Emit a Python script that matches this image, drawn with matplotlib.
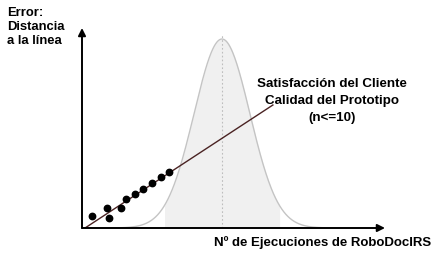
import numpy as np
import matplotlib.pyplot as plt

plt.rcParams['font.family'] = ['Liberation Sans', 'DejaVu Sans']

# client satisfaction points (runs, error)
runs = [3.2, 8.2, 9.0, 12.9, 14.4, 17.6, 20.2, 23.2, 26.2, 28.8]
error = [6.0, 9.9, 4.9, 9.9, 14.4, 17.0, 19.4, 22.4, 25.4, 27.9]

# trend line endpoints
fit_x = [1.0, 63.0]
fit_y = [0.0, 61.5]

# normal curve parameters
mu = 46.2
sigma = 9.2
peak = 94.5
shade_lo, shade_hi = 27.1, 65.3

W, H = 441, 267
fig = plt.figure(figsize=(W / 100, H / 100), dpi=100)
ax = fig.add_axes([82 / W, (H - 228) / H, (385 - 82) / W, (228 - 28) / H])
ax.set_xlim(0, 100)
ax.set_ylim(0, 100)
ax.axis('off')

xs = np.linspace(12, 80, 300)
ys = peak * np.exp(-0.5 * ((xs - mu) / sigma) ** 2)
m = (xs >= shade_lo) & (xs <= shade_hi)
ax.fill_between(xs[m], 0, ys[m], color='#f0f0f0', lw=0)
ax.plot(xs, ys, color='#c4c4c4', lw=1)
ax.plot([mu, mu], [0, 96.5], color='#bdbdbd', lw=0.8, ls=(0, (1.5, 2)))

ax.plot(fit_x, fit_y, color='#4a2323', lw=1)
ax.plot(runs, error, 'o', color='black', ms=4.6)

# axes arrows
ax.annotate('', xy=(0, 100), xytext=(0, 0),
            arrowprops=dict(arrowstyle='-|>', color='black', lw=1.4,
                            mutation_scale=11, shrinkA=0, shrinkB=0))
ax.annotate('', xy=(100, 0), xytext=(0, 0),
            arrowprops=dict(arrowstyle='-|>', color='black', lw=1.4,
                            mutation_scale=11, shrinkA=0, shrinkB=0))

fig.text(7 / W, 1 - 27 / H, 'Error:\nDistancia\na la línea', ha='left',
         va='center', fontsize=9.4, fontweight='bold', linespacing=1.2)
fig.text(332 / W, 1 - 101 / H,
         'Satisfacción del Cliente\nCalidad del Prototipo\n(n<=10)',
         ha='center', va='center', fontsize=9.6, fontweight='bold',
         linespacing=1.55)
fig.text(323 / W, 1 - 243 / H, 'Nº de Ejecuciones de RoboDocIRS',
         ha='center', va='center', fontsize=9.5, fontweight='bold')

fig.savefig('out.png', dpi=100)
